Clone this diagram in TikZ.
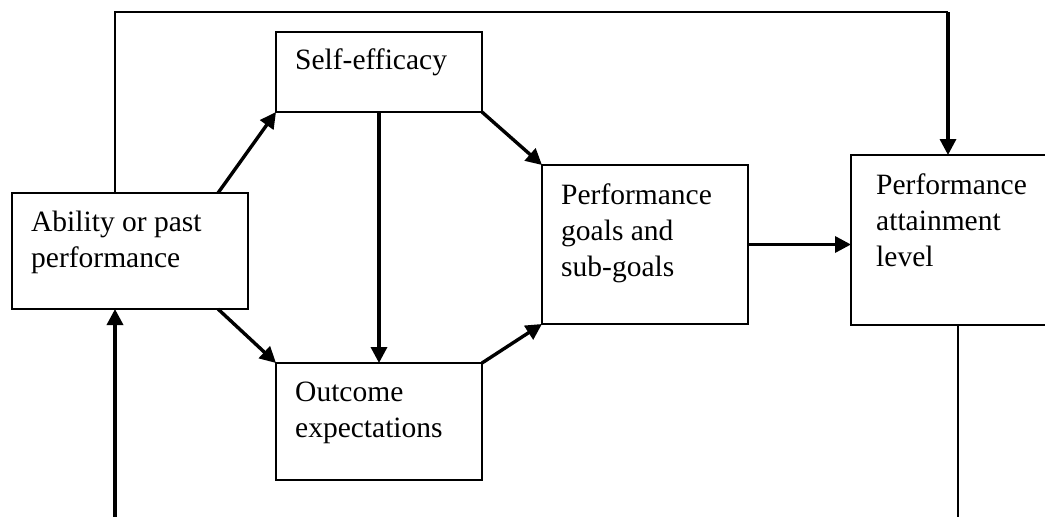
\documentclass[tikz,border=0pt]{standalone}
\usepackage{fontspec}
\setmainfont{Liberation Serif}
\usetikzlibrary{arrows.meta}
\begin{document}
\begin{tikzpicture}[x=1pt,y=-1pt,
  box/.style={draw=black,line width=1.1pt,inner sep=0pt,outer sep=0pt,rectangle},
  lbl/.style={anchor=base west,inner sep=0pt,align=left,font=\fontsize{29.5}{36}\selectfont},
  arr/.style={line width=3.4pt,-{Triangle[length=16pt,width=16pt]}},
  thinline/.style={line width=1.6pt}]
\useasboundingbox (0,0) rectangle (1045,517);
\clip (0,0) rectangle (1045,517);
% boxes
\node[box,minimum width=236pt,minimum height=116pt] (abil) at (130,251) {};
\node[box,minimum width=206pt,minimum height=80pt] (self) at (379,72) {};
\node[box,minimum width=206pt,minimum height=117pt] (outc) at (379,421.5) {};
\node[box,minimum width=206pt,minimum height=159pt] (goal) at (645,244.5) {};
\node[box,minimum width=210pt,minimum height=170pt] (attn) at (956,240) {};
% labels (base = baseline of last line)
\node[lbl] (abilt) at (31,267) {Ability or past\\performance};
\node[lbl] (selft) at (295,69) {Self-efficacy};
\node[lbl] (outct) at (295,437) {Outcome\\expectations};
\node[lbl] (goalt) at (561,276) {Performance\\goals and\\sub-goals};
\node[lbl] (attnt) at (876,266) {Performance\\attainment\\level};
% free ends
\coordinate (tr) at (948,12);
\coordinate (bl) at (115,517);
\coordinate (br) at (958,517);
% connectors
\draw[arr] ([xshift=-30pt]abil.north east) -- (self.south west);
\draw[arr] ([xshift=-30pt]abil.south east) -- (outc.north west);
\draw[arr] (self.south) -- (outc.north);
\draw[arr] (self.south east) -- (goal.north west);
\draw[arr] (outc.north east) -- (goal.south west);
\draw[arr] (goal.east) -- (goal.east -| attn.west);
\draw[thinline] ([xshift=-15pt]abil.north) |- (tr);
\draw[arr] (tr) -- (tr |- attn.north);
\draw[arr] (bl) -- (bl |- abil.south);
\draw[thinline] (br |- attn.south) -- (br);
\end{tikzpicture}
\end{document}
